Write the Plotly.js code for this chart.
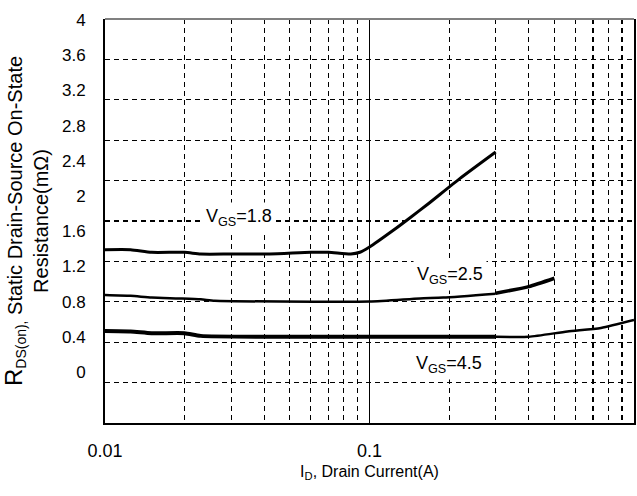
<!DOCTYPE html>
<html><head><meta charset="utf-8">
<script src="https://cdn.plot.ly/plotly-3.0.1.min.js"></script>
<style>html,body{margin:0;padding:0;background:#fff}#chart{width:637px;height:496px}</style>
</head><body><div id="chart"></div>
<script>
// VGS = 1.8 V
const vgs18_x = [0.01, 0.0125, 0.015, 0.02, 0.023, 0.03, 0.042, 0.06, 0.07, 0.085, 0.092, 0.1, 0.123, 0.142, 0.165, 0.22, 0.3];
const vgs18_y = [1.39, 1.39, 1.36, 1.36, 1.34, 1.34, 1.34, 1.36, 1.36, 1.34, 1.36, 1.42, 1.61, 1.75, 1.90, 2.20, 2.50];
// VGS = 2.5 V (thin part, thick part)
const vgs25a_x = [0.01, 0.0125, 0.015, 0.019, 0.023, 0.026, 0.046, 0.1, 0.155, 0.19, 0.3];
const vgs25a_y = [0.875, 0.865, 0.845, 0.835, 0.825, 0.81, 0.80, 0.80, 0.835, 0.845, 0.89];
const vgs25b_x = [0.3, 0.4, 0.5];
const vgs25b_y = [0.895, 0.97, 1.065];
// VGS = 4.5 V (thick part, thin part)
const vgs45a_x = [0.01, 0.0125, 0.015, 0.02, 0.023, 0.045, 0.1, 0.2, 0.3];
const vgs45a_y = [0.465, 0.46, 0.44, 0.44, 0.41, 0.40, 0.40, 0.40, 0.40];
const vgs45b_x = [0.3, 0.4, 0.56, 0.75, 1.0];
const vgs45b_y = [0.40, 0.40, 0.46, 0.50, 0.59];

const yTickVals = [0, 0.4, 0.8, 1.2, 1.6, 2, 2.4, 2.8, 3.2, 3.6, 4];
const yTickText = ['0', '0.4', '0.8', '1.2', '1.6', '2', '2.4', '2.8', '3.2', '3.6', '4'];
const xTickVals = [0.01, 0.1, 1];
const xTickText = ['0.01', '0.1', '1'];
const xMinorVals = [0.02, 0.03, 0.04, 0.05, 0.06, 0.07, 0.08, 0.09, 0.2, 0.3, 0.4, 0.5, 0.6, 0.7, 0.8, 0.9];
const gridVals = [1, 2, 3, 4, 5, 6, 7, 8, 9];

const labelText = ['V<sub>GS</sub>=1.8', 'V<sub>GS</sub>=2.5', 'V<sub>GS</sub>=4.5'];
const labelX = [0.0321, 0.2015, 0.2];
const labelY = [1.76, 1.10, 0.08];

function line(x, y, w) {
  return {x: x, y: y, type: 'scatter', mode: 'lines', line: {color: '#000', width: w, shape: 'spline', smoothing: 0.6}, hoverinfo: 'skip', showlegend: false};
}

const traces = [
  {x: [0.01], y: [0], yaxis: 'y2', type: 'scatter', mode: 'markers', marker: {opacity: 0}, hoverinfo: 'skip', showlegend: false},
  line(vgs18_x, vgs18_y, 3),
  line(vgs25a_x, vgs25a_y, 2.5),
  line(vgs25b_x, vgs25b_y, 3.5),
  line(vgs45a_x, vgs45a_y, 4),
  line(vgs45b_x, vgs45b_y, 2.5)
];

const font = '"Liberation Sans", Arial, sans-serif';

const layout = {
  width: 637, height: 496,
  margin: {l: 105, r: 3, t: 19, b: 73},
  paper_bgcolor: '#fff', plot_bgcolor: '#fff',
  font: {family: font, color: '#000', size: 17},
  xaxis: {
    type: 'log', range: [-2, 0],
    tickmode: 'array', tickvals: xTickVals, ticktext: xTickText,
    showgrid: true, gridcolor: '#000', gridwidth: 1.3,
    minor: {tickmode: 'array', tickvals: xMinorVals, showgrid: true, gridcolor: '#000', gridwidth: 1.2, griddash: '5px,4px', ticks: ''},
    ticks: '', ticklabelstandoff: 10,
    showline: true, linecolor: '#000', linewidth: 2,
    zeroline: false,
    tickfont: {size: 18},
    title: {text: 'I<sub>D</sub>, Drain Current(A)', font: {size: 16}, standoff: 6}
  },
  yaxis: {
    range: [-0.58, 4.011],
    tickmode: 'array', tickvals: yTickVals, ticktext: yTickText,
    showgrid: false, zeroline: false,
    ticks: '', ticklabelstandoff: 14,
    showline: true, linecolor: '#000', linewidth: 2,
    tickfont: {size: 17},
    title: {text: '<span style="font-size:24px">R</span><sub>DS(on),</sub> Static Drain-Source On-State<br>Resistance(mΩ)', font: {size: 20}, standoff: 12}
  },
  yaxis2: {
    overlaying: 'y', side: 'right', range: [0, 10],
    tickmode: 'array', tickvals: gridVals,
    showticklabels: false, ticks: '',
    showgrid: true, gridcolor: '#000', gridwidth: 1.2, griddash: '5px,4px',
    zeroline: false,
    showline: true, linecolor: '#000', linewidth: 2
  },
  shapes: [
    {type: 'line', xref: 'paper', yref: 'paper', x0: 0, x1: 1, y0: 1, y1: 1, line: {color: '#808080', width: 2}}
  ],
  annotations: labelText.map((t, i) => ({
    text: t, x: Math.log10(labelX[i]), y: labelY[i], xref: 'x', yref: 'y',
    showarrow: false, bgcolor: '#fff', borderpad: 3,
    font: {size: 18, family: font, color: '#000'}
  }))
};

Plotly.newPlot('chart', traces, layout, {displayModeBar: false, staticPlot: true});
</script>
</body></html>
